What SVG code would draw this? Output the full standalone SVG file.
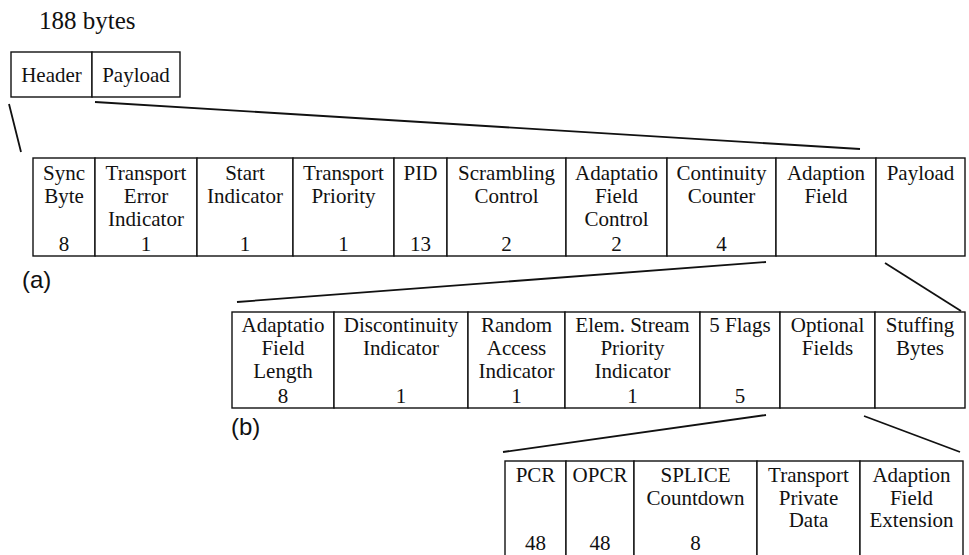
<svg xmlns="http://www.w3.org/2000/svg" width="969" height="555" viewBox="0 0 969 555">
<style>
.b{fill:#fff;stroke:#111;stroke-width:1.4}
.t{font-family:"Liberation Serif","Times New Roman",serif;font-size:21px;fill:#111;text-anchor:middle}
.ttl{font-family:"Liberation Serif","Times New Roman",serif;font-size:25px;fill:#111}
.lab{font-family:"Liberation Sans",Arial,sans-serif;font-size:24px;fill:#111}
.c{stroke:#111;stroke-width:1.8;fill:none}
</style>
<rect width="969" height="555" fill="#fff"/>
<text class="ttl" x="39" y="29">188 bytes</text>
<g id="packet">
<g id="header"><rect class="b" x="11" y="52" width="81" height="45"/><text class="t" x="51.5" y="82">Header</text></g>
<g id="payload-top"><rect class="b" x="92" y="52" width="88" height="45"/><text class="t" x="136" y="82">Payload</text></g>
</g>
<g id="connectors">
<line class="c" x1="9" y1="104" x2="21" y2="152"/>
<line class="c" x1="95" y1="102" x2="860" y2="149"/>
<line class="c" x1="237" y1="302" x2="766" y2="262"/>
<line class="c" x1="885" y1="263" x2="961" y2="311"/>
<line class="c" x1="503" y1="452" x2="766" y2="415"/>
<line class="c" x1="864" y1="416" x2="960" y2="452"/>
</g>
<g id="row-a">
<g id="sync"><rect class="b" x="33" y="158" width="62" height="98"/><text class="t" x="64" y="180">Sync</text><text class="t" x="64" y="203">Byte</text><text class="t" x="64" y="251">8</text></g>
<g id="tei"><rect class="b" x="95" y="158" width="102" height="98"/><text class="t" x="146" y="180">Transport</text><text class="t" x="146" y="203">Error</text><text class="t" x="146" y="226">Indicator</text><text class="t" x="146" y="251">1</text></g>
<g id="start"><rect class="b" x="197" y="158" width="96" height="98"/><text class="t" x="245" y="180">Start</text><text class="t" x="245" y="203">Indicator</text><text class="t" x="245" y="251">1</text></g>
<g id="tp"><rect class="b" x="293" y="158" width="101" height="98"/><text class="t" x="343.5" y="180">Transport</text><text class="t" x="343.5" y="203">Priority</text><text class="t" x="343.5" y="251">1</text></g>
<g id="pid"><rect class="b" x="394" y="158" width="53" height="98"/><text class="t" x="420.5" y="180">PID</text><text class="t" x="420.5" y="251">13</text></g>
<g id="scr"><rect class="b" x="447" y="158" width="119" height="98"/><text class="t" x="506.5" y="180">Scrambling</text><text class="t" x="506.5" y="203">Control</text><text class="t" x="506.5" y="251">2</text></g>
<g id="afc"><rect class="b" x="566" y="158" width="101" height="98"/><text class="t" x="616.5" y="180">Adaptatio</text><text class="t" x="616.5" y="203">Field</text><text class="t" x="616.5" y="226">Control</text><text class="t" x="616.5" y="251">2</text></g>
<g id="cc"><rect class="b" x="667" y="158" width="109" height="98"/><text class="t" x="721.5" y="180">Continuity</text><text class="t" x="721.5" y="203">Counter</text><text class="t" x="721.5" y="251">4</text></g>
<g id="af"><rect class="b" x="776" y="158" width="100" height="98"/><text class="t" x="826" y="180">Adaption</text><text class="t" x="826" y="203">Field</text></g>
<g id="pl"><rect class="b" x="876" y="158" width="89" height="98"/><text class="t" x="920.5" y="180">Payload</text></g>
</g>
<text class="lab" x="22" y="288">(a)</text>
<g id="row-b">
<g id="afl"><rect class="b" x="232" y="312" width="102" height="96"/><text class="t" x="283" y="332">Adaptatio</text><text class="t" x="283" y="355">Field</text><text class="t" x="283" y="378">Length</text><text class="t" x="283" y="403">8</text></g>
<g id="di"><rect class="b" x="334" y="312" width="134" height="96"/><text class="t" x="401" y="332">Discontinuity</text><text class="t" x="401" y="355">Indicator</text><text class="t" x="401" y="403">1</text></g>
<g id="rai"><rect class="b" x="468" y="312" width="97" height="96"/><text class="t" x="516.5" y="332">Random</text><text class="t" x="516.5" y="355">Access</text><text class="t" x="516.5" y="378">Indicator</text><text class="t" x="516.5" y="403">1</text></g>
<g id="espi"><rect class="b" x="565" y="312" width="135" height="96"/><text class="t" x="632.5" y="332">Elem. Stream</text><text class="t" x="632.5" y="355">Priority</text><text class="t" x="632.5" y="378">Indicator</text><text class="t" x="632.5" y="403">1</text></g>
<g id="flags"><rect class="b" x="700" y="312" width="80" height="96"/><text class="t" x="740" y="332">5 Flags</text><text class="t" x="740" y="403">5</text></g>
<g id="opt"><rect class="b" x="780" y="312" width="95" height="96"/><text class="t" x="827.5" y="332">Optional</text><text class="t" x="827.5" y="355">Fields</text></g>
<g id="stuff"><rect class="b" x="875" y="312" width="90" height="96"/><text class="t" x="920" y="332">Stuffing</text><text class="t" x="920" y="355">Bytes</text></g>
</g>
<text class="lab" x="231" y="435">(b)</text>
<g id="row-c">
<g id="pcr"><rect class="b" x="505" y="461" width="61" height="110"/><text class="t" x="535.5" y="482">PCR</text><text class="t" x="535.5" y="550">48</text></g>
<g id="opcr"><rect class="b" x="566" y="461" width="68" height="110"/><text class="t" x="600" y="482">OPCR</text><text class="t" x="600" y="550">48</text></g>
<g id="splice"><rect class="b" x="634" y="461" width="123" height="110"/><text class="t" x="695.5" y="482">SPLICE</text><text class="t" x="695.5" y="505">Countdown</text><text class="t" x="695.5" y="550">8</text></g>
<g id="tpd"><rect class="b" x="757" y="461" width="103" height="110"/><text class="t" x="808.5" y="482">Transport</text><text class="t" x="808.5" y="505">Private</text><text class="t" x="808.5" y="527">Data</text></g>
<g id="afe"><rect class="b" x="860" y="461" width="103" height="110"/><text class="t" x="911.5" y="482">Adaption</text><text class="t" x="911.5" y="505">Field</text><text class="t" x="911.5" y="527">Extension</text></g>
</g>
</svg>
